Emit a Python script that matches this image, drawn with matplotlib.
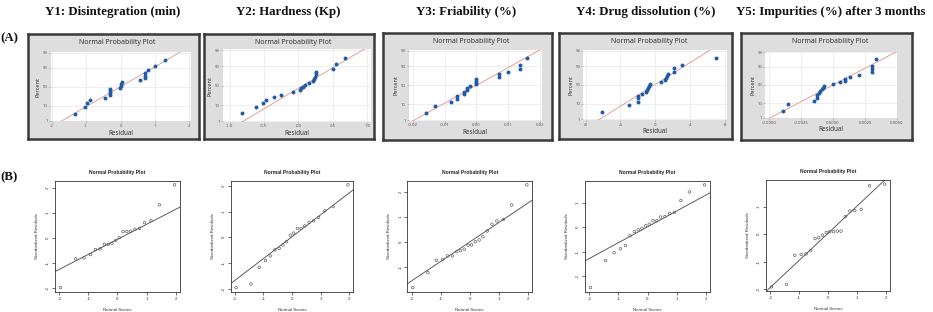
import matplotlib
matplotlib.use('Agg')
import matplotlib.pyplot as plt
from statistics import NormalDist
import numpy as np

W, H = 933, 312

# ---------------- data ----------------
section_titles = ["Y1: Disintegration (min)", "Y2: Hardness (Kp)", "Y3: Friability (%)",
                  "Y4: Drug dissolution (%)", "Y5: Impurities (%) after 3 months"]

# (A) Minitab normal probability plots of residuals
percent_pos = [3.4, 8.3, 13.2, 18.1, 23.0, 27.9, 32.8, 37.7, 42.6, 47.5,
               52.5, 57.4, 62.3, 67.2, 72.1, 77.0, 81.9, 86.8, 91.7, 96.6]
resid_A1 = [-1.32, -1.03, -0.98, -0.90, -0.44, -0.31, -0.31, -0.31, -0.31, -0.02,
            0.0, 0.02, 0.03, 0.57, 0.70, 0.70, 0.71, 0.79, 1.0, 1.31]
resid_A2 = [-0.825, -0.61, -0.52, -0.47, -0.35, -0.25, -0.08, 0.02, 0.04, 0.07,
            0.09, 0.15, 0.21, 0.23, 0.24, 0.25, 0.25, 0.50, 0.54, 0.68]
resid_A3 = [-0.0159, -0.0129, -0.0081, -0.0060, -0.0060, -0.0040, -0.0038, -0.0029, -0.0029, -0.0019,
            0.0, 0.0, 0.0, 0.0, 0.0070, 0.0070, 0.0098, 0.0138, 0.0138, 0.0158]
resid_A4 = [-6.07, -2.99, -2.02, -2.02, -2.02, -1.56, -1.06, -0.95, -0.87, -0.75,
            -0.60, 0.71, 1.10, 1.25, 1.37, 1.52, 2.18, 2.18, 3.14, 7.0]
resid_A5 = [-0.00392, -0.00353, -0.00147, -0.00126, -0.00121, -0.00106, -0.00101, -0.00088, -0.00080, -0.00072,
            0.0, 0.00057, 0.00093, 0.00098, 0.00137, 0.00204, 0.00302, 0.00302, 0.00302, 0.0034]
fit_mean_A = [0.0, 0.065, 0.0, -0.1, 0.0]
fit_sd_A = [0.737, 0.372, 0.0084, 2.72, 0.0021]
xticks_A = [[-2, -1, 0, 1, 2], [-1.0, -0.5, 0.0, 0.5, 1.0], [-0.02, -0.01, 0.0, 0.01, 0.02],
            [-8, -4, 0, 4, 8], [-0.005, -0.0025, 0.0, 0.0025, 0.005]]
xticklabels_A = [["-2", "-1", "0", "1", "2"], ["-1.0", "-0.5", "0.0", "0.5", "1.0"],
                 ["-0.02", "-0.01", "0.00", "0.01", "0.02"], ["-8", "-4", "0", "4", "8"],
                 ["-0.0050", "-0.0025", "0.0000", "0.0025", "0.0050"]]
xlim_A = [(-2.04, 2.04), (-1.10, 1.05), (-0.0213, 0.0205), (-8.3, 8.27), (-0.0053, 0.0050)]
percent_ticks = [1, 10, 50, 90, 99]

# (B) R normal probability plots of standardized residuals
normal_scores = [-1.96, -1.44, -1.15, -0.93, -0.76, -0.60, -0.45, -0.32, -0.19, -0.06,
                 0.06, 0.19, 0.32, 0.45, 0.60, 0.76, 0.93, 1.15, 1.44, 1.96]
std_B1 = [-2.0, -0.85, -0.81, -0.68, -0.48, -0.45, -0.27, -0.27, -0.23, -0.11,
          0.0, 0.24, 0.24, 0.25, 0.33, 0.37, 0.60, 0.68, 1.31, 2.11]
std_B2 = [-1.96, -1.82, -1.17, -0.91, -0.73, -0.49, -0.43, -0.30, -0.17, 0.08,
          0.16, 0.34, 0.34, 0.44, 0.58, 0.64, 0.77, 1.03, 1.19, 2.04]
std_B3 = [-1.83, -1.23, -0.74, -0.70, -0.56, -0.56, -0.39, -0.35, -0.29, -0.13,
          -0.12, 0.01, 0.08, 0.21, 0.44, 0.71, 0.84, 0.90, 1.48, 2.29]
std_B4 = [-2.46, -1.36, -1.04, -0.88, -0.75, -0.35, -0.18, -0.11, -0.05, 0.05,
          0.12, 0.26, 0.26, 0.41, 0.43, 0.56, 0.60, 1.08, 1.43, 1.72]
std_B5 = [-1.92, -1.83, -0.77, -0.74, -0.72, -0.60, -0.16, -0.13, -0.04, 0.06,
          0.09, 0.09, 0.11, 0.11, 0.64, 0.84, 0.86, 0.90, 1.76, 1.82]
line_slope_B = [0.60, 0.85, 0.78, 0.644, 0.985]
line_icpt_B = [-0.07, 0.02, 0.0, 0.01, 0.03]
yticks_B = [-2, -1, 0, 1, 2]

resid_A = [resid_A1, resid_A2, resid_A3, resid_A4, resid_A5]
std_B = [std_B1, std_B2, std_B3, std_B4, std_B5]

# ---------------- layout (pixels) ----------------
title_x = [113, 288, 466, 646, 831]
frames_A = [(28, 34, 199, 139), (204, 34, 374, 139), (383, 33, 552, 140),
            (559, 33, 732, 139), (741, 33, 912, 140)]
plots_A = [(50.5, 52, 190.5, 121.5), (222.7, 49.5, 370.7, 121.7), (408.7, 50, 541.7, 120.7),
           (583, 50, 727, 120), (765, 51.7, 897, 118.3)]
axes_B = [(55, 180.7, 180, 291.7), (230.7, 180.7, 353.3, 291.7), (407.3, 180.7, 532.3, 291.7),
          (585, 180.7, 710, 291.7), (766, 180, 890, 291)]

fig = plt.figure(figsize=(W / 100, H / 100), dpi=100)
fig.patch.set_facecolor('white')


def fx(px):
    return px / W


def fy(py):
    return 1 - py / H


def add_ax(box, z=1):
    l, t, r, b = box
    return fig.add_axes([fx(l), fy(b), fx(r) - fx(l), (b - t) / H], zorder=z)


serif = 'Liberation Serif'
for tx, t in zip(title_x, section_titles):
    fig.text(fx(tx), fy(12), t, ha='center', va='center', family=serif,
             weight='bold', fontsize=9.3, color='#111111')
fig.text(fx(9), fy(38), '(A)', ha='center', va='center', family=serif,
         weight='bold', fontsize=9.3, color='#111111')
fig.text(fx(9), fy(177), '(B)', ha='center', va='center', family=serif,
         weight='bold', fontsize=9.3, color='#111111')

nd = NormalDist()
zt = [nd.inv_cdf(p / 100) for p in percent_ticks]
ylo, yhi = nd.inv_cdf(0.01) - 0.04, nd.inv_cdf(0.99) + 0.04
mfont = 'Noto Sans'

# ---------------- (A) row ----------------
for i in range(5):
    l, t, r, b = frames_A[i]
    fr = add_ax(frames_A[i], z=0)
    fr.set_facecolor('#dedede')
    fr.set_xticks([])
    fr.set_yticks([])
    for s in fr.spines.values():
        s.set_linewidth(1.8)
        s.set_color('#3a3a3a')
    fig.text(fx((l + r) / 2 + 4), fy(t + 8.5), 'Normal Probability Plot', ha='center',
             va='center', family=mfont, weight='bold', fontsize=5.0, color='#333333',
             zorder=5)
    ax = add_ax(plots_A[i], z=2)
    ax.set_facecolor('white')
    z = [nd.inv_cdf(p / 100) for p in percent_pos]
    x0, x1 = xlim_A[i]
    xs = np.array([x0, x1])
    ax.plot(xs, (xs - fit_mean_A[i]) / fit_sd_A[i], color='#e39090', lw=0.6, zorder=2)
    ax.scatter(resid_A[i], z, s=8, color='#1f5ba6', zorder=3, linewidths=0)
    ax.set_xlim(x0, x1)
    ax.set_ylim(ylo, yhi)
    ax.set_yticks(zt)
    ax.set_yticklabels([str(p) for p in percent_ticks])
    ax.set_xticks(xticks_A[i])
    ax.set_xticklabels(xticklabels_A[i])
    ax.grid(True, color='#e8e8e8', lw=0.5)
    ax.set_axisbelow(True)
    for s in ax.spines.values():
        s.set_visible(False)
    ax.tick_params(length=1.2, width=0.4, color='#999999', pad=0.8, labelsize=3.0,
                   labelcolor='#555555')
    for lab in ax.get_xticklabels() + ax.get_yticklabels():
        lab.set_family(mfont)
    ax.set_xlabel('Residual', family=mfont, weight='bold', fontsize=4.5, color='#333333',
                  labelpad=1.0)
    ax.set_ylabel('Percent', family=mfont, weight='bold', fontsize=4.0, color='#333333',
                  labelpad=1.5)

# ---------------- (B) row ----------------
rfont = 'Liberation Sans'
for i in range(5):
    ax = add_ax(axes_B[i])
    y = std_B[i]
    ax.scatter(normal_scores, y, s=3.5, facecolors='none', edgecolors='#555555',
               linewidths=0.45, zorder=3)
    xr = max(normal_scores) - min(normal_scores)
    xl0, xl1 = min(normal_scores) - 0.048 * xr, max(normal_scores) + 0.048 * xr
    yr = max(y) - min(y)
    yl0, yl1 = min(y) - 0.04 * yr, max(y) + 0.04 * yr
    xs = np.array([xl0, xl1])
    ax.plot(xs, line_slope_B[i] * xs + line_icpt_B[i], color='#444444', lw=0.6, zorder=2)
    ax.set_xlim(xl0, xl1)
    ax.set_ylim(yl0, yl1)
    ax.set_xticks([-2, -1, 0, 1, 2])
    ax.set_xticklabels(['-2', '-1', '0', '1', '2'])
    yt = [v for v in yticks_B if yl0 <= v <= yl1]
    ax.set_yticks(yt)
    ax.set_yticklabels([str(v) for v in yt], rotation=90, va='center')
    for s in ax.spines.values():
        s.set_linewidth(0.6)
        s.set_color('#333333')
    ax.tick_params(length=2, width=0.5, color='#333333', pad=1.5, labelsize=3.2,
                   labelcolor='#333333')
    for lab in ax.get_xticklabels() + ax.get_yticklabels():
        lab.set_family(rfont)
    ax.set_title('Normal Probability Plot', family=rfont, weight='bold', fontsize=3.6,
                 color='#222222', pad=5)
    ax.set_xlabel('Normal Scores', family=rfont, fontsize=3.2, color='#333333', labelpad=5)
    ax.set_ylabel('Standardized Residuals', family=rfont, fontsize=3.2, color='#333333',
                  labelpad=5)

fig.savefig('out.png', dpi=100, facecolor='white')
